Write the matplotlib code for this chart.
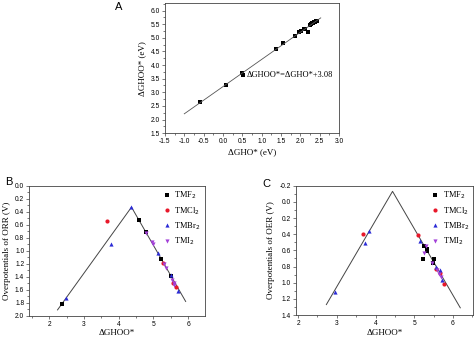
import matplotlib
matplotlib.use("Agg")
import matplotlib.pyplot as plt
import numpy as np
from matplotlib.ticker import MultipleLocator, AutoMinorLocator

# Panel A: scaling relation
gho = [-0.6, 0.07, 0.5, 0.52, 1.37, 1.55, 1.86, 1.98, 2.03, 2.09, 2.13, 2.21,
       2.24, 2.27, 2.29, 2.31, 2.33, 2.35, 2.37, 2.39, 2.41, 2.43]
ghoo = [2.65, 3.26, 3.7, 3.65, 4.6, 4.82, 5.08, 5.2, 5.25, 5.31, 5.33, 5.2,
        5.47, 5.5, 5.52, 5.53, 5.55, 5.57, 5.58, 5.6, 5.62, 5.63]
fit_x = [-1.0, 2.53]
fit_label = "ΔGHOO*=ΔGHO*+3.08"

# Panel B: ORR volcano
orr_line_x = [2.24, 4.37, 5.93]
orr_line_y = [1.91, 0.33, 1.78]
orr = {
    "F":  ([2.38, 4.6, 4.79, 5.21, 5.5], [1.825, 0.53, 0.71, 1.13, 1.39]),
    "Cl": ([3.66, 5.29, 5.57, 5.64], [0.55, 1.19, 1.5, 1.55]),
    "Br": ([2.48, 3.78, 4.37, 5.12, 5.5, 5.72], [1.72, 0.9, 0.33, 1.03, 1.38, 1.62]),
    "I":  ([4.8, 4.95, 4.98, 5.32, 5.37, 5.54, 5.58, 5.6],
           [0.72, 0.86, 0.89, 1.21, 1.26, 1.45, 1.5, 1.53]),
}

# Panel C: OER volcano
oer_line_x = [2.73, 4.44, 6.19]
oer_line_y = [1.27, -0.13, 1.31]
oer = {
    "F":  ([5.23, 5.25, 5.32, 5.34, 5.5, 5.48], [0.71, 0.54, 0.58, 0.61, 0.71, 0.75]),
    "Cl": ([3.68, 5.1, 5.57, 5.66, 5.76], [0.4, 0.41, 0.83, 0.88, 1.02]),
    "Br": ([2.95, 3.73, 3.83, 5.14, 5.55, 5.67, 5.72], [1.12, 0.51, 0.36, 0.48, 0.8, 0.84, 0.96]),
    "I":  ([5.3, 5.26, 5.47, 5.6, 5.63, 5.69], [0.55, 0.63, 0.75, 0.84, 0.89, 0.93]),
}

labels = {"F": "TMF$_2$", "Cl": "TMCl$_2$", "Br": "TMBr$_2$", "I": "TMI$_2$"}
styles = {"F": ("s", "black"), "Cl": ("o", "#e8182a"),
          "Br": ("^", "#2b2bd6"), "I": ("v", "#a23fd8")}

serif = "Liberation Serif"
sans = "Liberation Sans"

fig = plt.figure(figsize=(4.74, 3.37), dpi=100)


def style_axes(ax):
    for s in ax.spines.values():
        s.set_linewidth(0.6)
        s.set_color("#444444")
    ax.tick_params(which="both", direction="out", top=False, right=False,
                   width=0.5, color="#444444", labelsize=4.8, pad=1.5)
    ax.tick_params(which="major", length=2.2)
    ax.tick_params(which="minor", length=1.2)
    for t in ax.get_xticklabels() + ax.get_yticklabels():
        t.set_fontfamily(sans)


# A
axA = fig.add_axes([0.348, 0.605, 0.367, 0.386])
axA.plot(gho, ghoo, "s", color="black", ms=2.8, mew=0)
p = np.polyfit(gho, ghoo, 1)
axA.plot(fit_x, np.polyval(p, fit_x), color="#555555", lw=0.6)
axA.text(0.6, 3.62, fit_label, fontsize=6, family=serif, va="center")
axA.set_xlim(-1.5, 3.0)
axA.set_ylim(1.5, 6.28)
axA.xaxis.set_major_locator(MultipleLocator(0.5))
axA.yaxis.set_major_locator(MultipleLocator(0.5))
axA.xaxis.set_minor_locator(AutoMinorLocator(2))
axA.yaxis.set_minor_locator(AutoMinorLocator(2))
axA.xaxis.set_major_formatter(plt.FuncFormatter(lambda v, _: f"{v:.1f}"))
axA.yaxis.set_major_formatter(plt.FuncFormatter(lambda v, _: f"{v:.1f}"))
axA.set_xlabel("ΔGHO* (eV)", fontsize=6.5, family=serif, labelpad=2)
axA.set_ylabel("ΔGHOO* (eV)", fontsize=6.5, family=serif, labelpad=3)
style_axes(axA)
fig.text(0.243, 0.97, "A", fontsize=8, family=sans)


def volcano(ax, lx, ly, data, ylim, xlim, ylabel, ymajor):
    ax.plot(lx, ly, color="#444444", lw=0.7)
    for k in ["F", "Cl", "Br", "I"]:
        m, c = styles[k]
        ax.plot(data[k][0], data[k][1], m, color=c, ms=3.0, mew=0, label=labels[k])
    ax.set_xlim(*xlim)
    ax.set_ylim(*ylim)
    ax.xaxis.set_major_locator(MultipleLocator(1))
    ax.xaxis.set_minor_locator(AutoMinorLocator(2))
    ax.yaxis.set_major_locator(MultipleLocator(ymajor))
    ax.yaxis.set_minor_locator(AutoMinorLocator(2))
    ax.yaxis.set_major_formatter(plt.FuncFormatter(lambda v, _: f"{v:.1f}"))
    ax.set_xlabel("ΔGHOO*", fontsize=6.5, family=serif, labelpad=1)
    ax.set_ylabel(ylabel, fontsize=6.5, family=serif, labelpad=3)
    ax.legend(loc="upper right", frameon=False, prop={"family": serif, "size": 6},
              handletextpad=0.4, labelspacing=0.45, borderaxespad=0.1,
              handlelength=1.0, markerscale=1.0)
    style_axes(ax)


axB = fig.add_axes([0.062, 0.063, 0.370, 0.386])
volcano(axB, orr_line_x, orr_line_y, orr, (2.0, 0.0), (1.43, 6.48),
        "Overpotentials of ORR (V)", 0.2)
fig.text(0.01, 0.45, "B", fontsize=8, family=sans)

axC = fig.add_axes([0.624, 0.065, 0.374, 0.384])
volcano(axC, oer_line_x, oer_line_y, oer, (1.4, -0.2), (1.94, 6.52),
        "Overpotentials of OER (V)", 0.2)
fig.text(0.553, 0.445, "C", fontsize=8, family=sans)

fig.savefig("out.png", dpi=100)
